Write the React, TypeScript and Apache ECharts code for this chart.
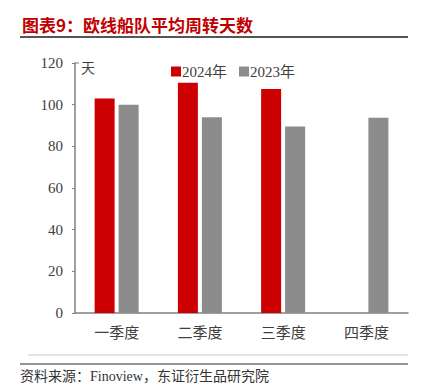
import React, { useEffect, useRef } from "react";
import * as echarts from "echarts";

const categories = ["一季度", "二季度", "三季度", "四季度"];
const series2024 = [103, 110.5, 107.5, null];
const series2023 = [100, 94, 89.5, 93.7];
const yTicks = { min: 0, max: 120, interval: 20 };

const FONT = "'Liberation Serif', 'Times New Roman', 'Noto Sans CJK SC', serif";

export default function App() {
  const ref = useRef<HTMLDivElement>(null);
  useEffect(() => {
    if (!ref.current) return;
    const chart = echarts.init(ref.current, null, { renderer: "svg" });
    chart.setOption({
      animation: false,
      backgroundColor: "#ffffff",
      textStyle: { fontFamily: FONT },
      grid: { left: 75, right: 21, top: 63, bottom: 79, containLabel: false },
      legend: {
        left: 166,
        top: 59,
        itemWidth: 10,
        itemHeight: 10,
        itemGap: 12,
        icon: "rect",
        textStyle: { fontFamily: FONT, fontSize: 15, color: "#404040", padding: [0, 0, 0, -4] },
        data: ["2024年", "2023年"],
      },
      xAxis: {
        type: "category",
        data: categories,
        boundaryGap: true,
        axisLine: { lineStyle: { color: "#808080", width: 1.5 } },
        axisTick: { inside: true, length: 3, lineStyle: { color: "#808080" } },
        axisLabel: { fontFamily: FONT, fontSize: 15, color: "#404040", margin: 12 },
      },
      yAxis: {
        type: "value",
        min: yTicks.min,
        max: yTicks.max,
        interval: yTicks.interval,
        splitLine: { show: false },
        axisLine: { show: true, lineStyle: { color: "#808080", width: 1.5 } },
        axisTick: { show: true, length: 3, lineStyle: { color: "#808080" } },
        axisLabel: { fontFamily: FONT, fontSize: 15, color: "#404040", margin: 12 },
      },
      series: [
        {
          name: "2024年",
          type: "bar",
          data: series2024,
          barWidth: 20,
          barGap: "20%",
          itemStyle: { color: "#cc0000" },
        },
        {
          name: "2023年",
          type: "bar",
          data: series2023,
          barWidth: 20,
          itemStyle: { color: "#8c8c8c" },
        },
      ],
      graphic: [
        {
          type: "text",
          left: 22,
          top: 16,
          style: {
            text: "图表9：欧线船队平均周转天数",
            fill: "#c00000",
            font: "bold 17px 'Noto Sans CJK SC', sans-serif",
          },
        },
        {
          type: "line",
          shape: { x1: 20, y1: 37, x2: 408, y2: 37 },
          style: { stroke: "#555555", lineWidth: 2 },
        },
        {
          type: "line",
          shape: { x1: 75, y1: 63, x2: 79, y2: 63 },
          style: { stroke: "#808080", lineWidth: 1 },
        },
        {
          type: "text",
          left: 81,
          top: 60,
          style: { text: "天", fill: "#404040", font: "14px 'Noto Sans CJK SC', serif" },
        },
        {
          type: "line",
          shape: { x1: 28, y1: 355, x2: 408, y2: 355 },
          style: { stroke: "#c8c8c8", lineWidth: 1 },
        },
        {
          type: "line",
          shape: { x1: 20, y1: 364, x2: 408, y2: 364 },
          style: { stroke: "#707070", lineWidth: 1.5 },
        },
        {
          type: "text",
          left: 20,
          top: 369,
          style: {
            text: "资料来源：Finoview，东证衍生品研究院",
            fill: "#333333",
            font: "14px 'Liberation Serif', 'Noto Sans CJK SC', serif",
          },
        },
      ],
    });
    return () => chart.dispose();
  }, []);
  return <div ref={ref} style={{ width: 429, height: 392, position: "absolute", left: 0, top: 0 }} />;
}
